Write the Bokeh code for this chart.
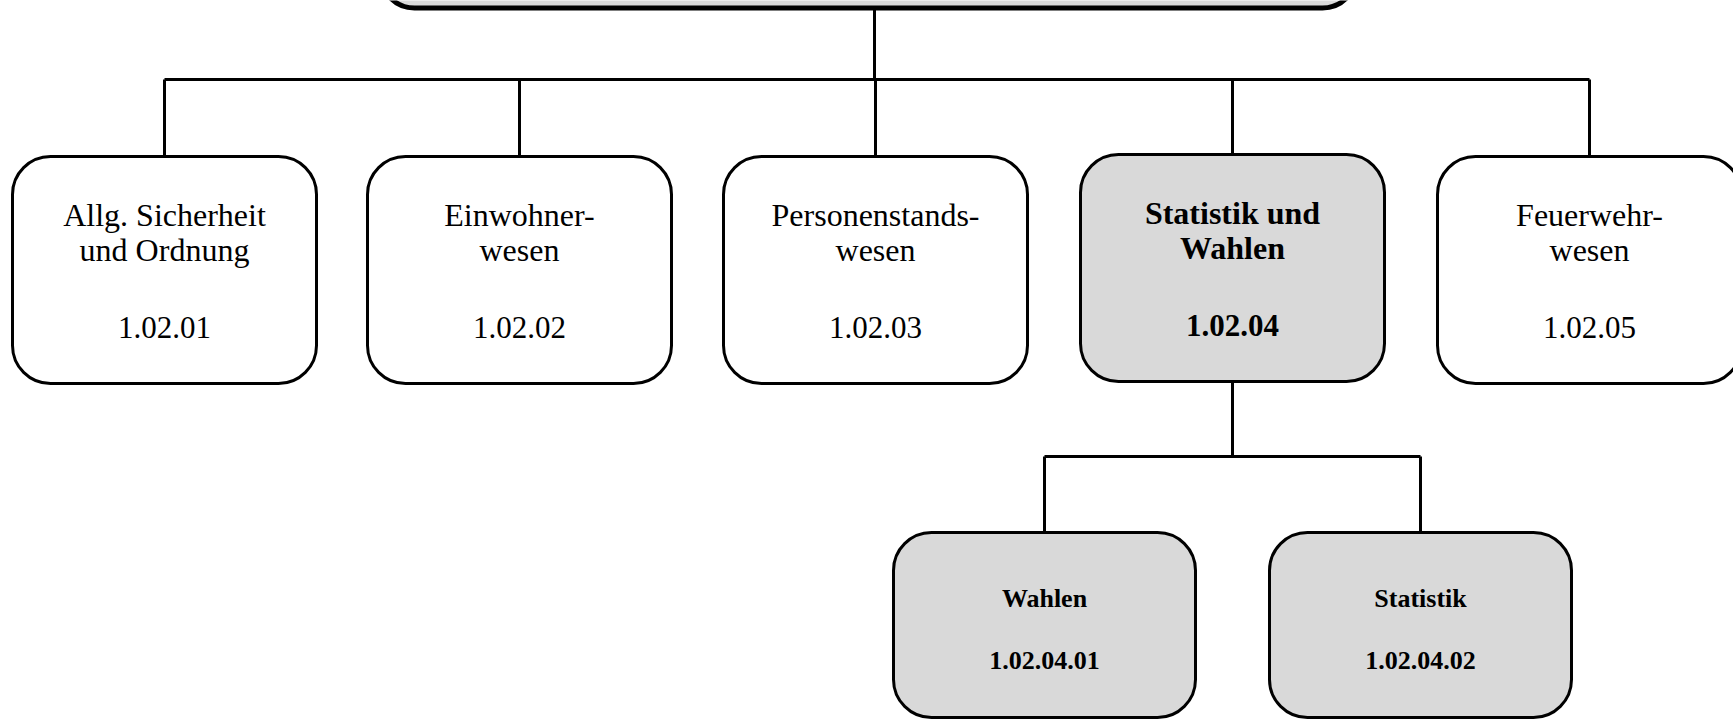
from bokeh.plotting import figure
from bokeh.models import ColumnDataSource, Range1d
from bokeh.core.properties import value
from bokeh.embed import file_html
from bokeh.resources import INLINE

# ---------------- data ----------------
l1_titles = ["Allg. Sicherheit\nund Ordnung", "Einwohner-\nwesen", "Personenstands-\nwesen",
             "Statistik und\nWahlen", "Feuerwehr-\nwesen"]
l1_codes = ["1.02.01", "1.02.02", "1.02.03", "1.02.04", "1.02.05"]
l1_highlight = [False, False, False, True, False]

l2_titles = ["Wahlen", "Statistik"]
l2_codes = ["1.02.04.01", "1.02.04.02"]
l2_parent = 3  # index of parent in level 1

# ---------------- layout (pixel space of the page) ----------------
W, H = 1733, 719
root_left, root_right, root_bottom = 380, 1356, 7.5
root_x = 874
bus1_y = 79
l1_x = [164, 519, 875, 1232, 1589]
l1_w = 304
l1_top = [156, 156, 156, 154, 156]
l1_h = 227
bus2_y = 456
l2_x = [1044, 1420]
l2_w = 302
l2_top = [532, 532]
l2_h = 185

GRAY = "#d9d9d9"
FONT = "Liberation Serif"

p = figure(width=W, height=H, output_backend="svg", toolbar_location=None,
           x_range=Range1d(0, W), y_range=Range1d(H, 0),
           min_border=0, outline_line_color=None)
p.axis.visible = False
p.grid.visible = False
p.background_fill_color = "white"
p.border_fill_color = "white"

# ---------------- connectors ----------------
xs, ys = [], []
xs.append([root_x, root_x]); ys.append([root_bottom, bus1_y])
xs.append([min(l1_x), max(l1_x)]); ys.append([bus1_y, bus1_y])
for x, t in zip(l1_x, l1_top):
    xs.append([x, x]); ys.append([bus1_y, t])
px = l1_x[l2_parent]
pb = l1_top[l2_parent] + l1_h
xs.append([px, px]); ys.append([pb, bus2_y])
xs.append([min(l2_x), max(l2_x)]); ys.append([bus2_y, bus2_y])
for x, t in zip(l2_x, l2_top):
    xs.append([x, x]); ys.append([bus2_y, t])
p.multi_line(xs, ys, line_color="black", line_width=3)

# ---------------- root box (mostly above the page) ----------------
p.quad(left=[root_left], right=[root_right], top=[-80], bottom=[root_bottom],
       fill_color=GRAY, line_color="black", line_width=5, border_radius=34)

# ---------------- level 1 boxes ----------------
src1 = ColumnDataSource(dict(
    left=[x - l1_w / 2 for x in l1_x],
    right=[x + l1_w / 2 for x in l1_x],
    top=l1_top,
    bottom=[t + l1_h for t in l1_top],
    fill=[GRAY if h else "white" for h in l1_highlight],
    x=l1_x,
    ty=[t + 76 for t in l1_top],
    cy=[t + 171 for t in l1_top],
    title=l1_titles,
    code=l1_codes,
    style=["bold" if h else "normal" for h in l1_highlight],
))
p.quad(left="left", right="right", top="top", bottom="bottom", source=src1,
       fill_color="fill", line_color="black", line_width=3, border_radius=38)
p.text(x="x", y="ty", text="title", source=src1, text_font=value(FONT),
       text_font_size=value("32px"), text_font_style="style", text_align="center",
       text_baseline="middle", text_color="black", text_line_height=0.98)
p.text(x="x", y="cy", text="code", source=src1, text_font=value(FONT),
       text_font_size=value("31px"), text_font_style="style", text_align="center",
       text_baseline="middle", text_color="black")

# ---------------- level 2 boxes ----------------
src2 = ColumnDataSource(dict(
    left=[x - l2_w / 2 for x in l2_x],
    right=[x + l2_w / 2 for x in l2_x],
    top=l2_top,
    bottom=[t + l2_h for t in l2_top],
    x=l2_x,
    ty=[t + 66 for t in l2_top],
    cy=[t + 128 for t in l2_top],
    title=l2_titles,
    code=l2_codes,
))
p.quad(left="left", right="right", top="top", bottom="bottom", source=src2,
       fill_color=GRAY, line_color="black", line_width=3, border_radius=38)
p.text(x="x", y="ty", text="title", source=src2, text_font=value(FONT),
       text_font_size=value("26px"), text_font_style="bold", text_align="center",
       text_baseline="middle", text_color="black")
p.text(x="x", y="cy", text="code", source=src2, text_font=value(FONT),
       text_font_size=value("26px"), text_font_style="bold", text_align="center",
       text_baseline="middle", text_color="black")

open("out.html", "w").write(file_html(p, INLINE))
